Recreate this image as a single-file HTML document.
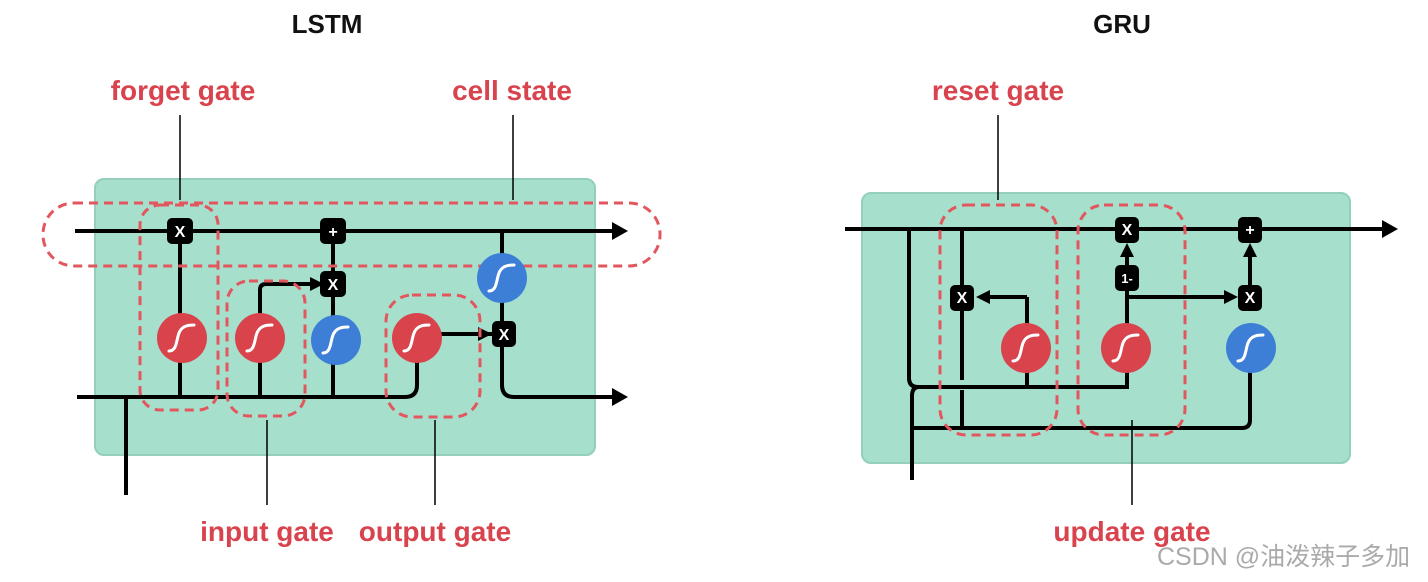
<!DOCTYPE html>
<html><head><meta charset="utf-8"><style>
html,body{margin:0;padding:0;background:#fff;}
svg{display:block;}
.lbl{font-family:"Liberation Sans",sans-serif;font-weight:bold;font-size:28px;fill:#d8434d;text-anchor:middle;}
.ttl{font-family:"Liberation Sans",sans-serif;font-weight:bold;font-size:26px;fill:#111;text-anchor:middle;}
.bx{font-family:"Liberation Sans",sans-serif;font-weight:bold;font-size:16px;fill:#fff;text-anchor:middle;}
</style></head><body>
<svg width="1428" height="582" viewBox="0 0 1428 582" xmlns="http://www.w3.org/2000/svg">
<defs>
<g id="sig"><path d="M-13,13 C-4,13 -6,-1 -2,-7 C1,-12 6,-13 12,-13" stroke="#fff" stroke-width="3" fill="none" stroke-linecap="round"/></g>
</defs>
<text class="ttl" x="327" y="33">LSTM</text>
<text class="ttl" x="1122" y="33">GRU</text>

<!-- LSTM -->
<rect x="95" y="179" width="500" height="276" rx="9" fill="#a6dfcc" stroke="#93cfba" stroke-width="2"/>
<g stroke="#000" stroke-width="4" fill="none">
<line x1="75" y1="231" x2="614" y2="231"/>
<line x1="77" y1="397" x2="405" y2="397"/>
<path d="M405,397 Q417,397 417,385 L417,338"/>
<line x1="126" y1="397" x2="126" y2="495"/>
<line x1="180" y1="231" x2="180" y2="397"/>
<line x1="260" y1="397" x2="260" y2="290"/>
<path d="M260,290 Q260,284 266,284 L322,284"/>
<line x1="333" y1="231" x2="333" y2="397"/>
<line x1="417" y1="334" x2="492" y2="334"/>
<line x1="502" y1="231" x2="502" y2="385"/>
<path d="M502,385 Q502,397 514,397 L614,397"/>
</g>
<path d="M612,222 L628,231 L612,240Z"/><path d="M612,388 L628,397 L612,406Z"/>
<path d="M310,277 L324,284 L310,291Z"/><path d="M478,327 L492,334 L478,341Z"/>
<g fill="none" stroke="#e2575e" stroke-width="3" stroke-dasharray="9,6">
<rect x="43" y="203" width="617" height="63" rx="31"/>
<rect x="140" y="205" width="78" height="205" rx="20"/>
<rect x="227" y="281" width="78" height="135" rx="22"/>
<rect x="386" y="295" width="94" height="122" rx="26"/>
</g>
<g stroke="#000" stroke-width="1.5">
<line x1="180" y1="115" x2="180" y2="200"/>
<line x1="513" y1="115" x2="513" y2="200"/>
<line x1="267" y1="420" x2="267" y2="505"/>
<line x1="435" y1="420" x2="435" y2="505"/>
</g>
<g>
<circle cx="182" cy="338" r="25" fill="#d8434c"/><use href="#sig" x="182" y="338"/>
<circle cx="260" cy="338" r="25" fill="#d8434c"/><use href="#sig" x="260" y="338"/>
<circle cx="336" cy="340" r="25" fill="#3d7fd6"/><use href="#sig" x="336" y="340"/>
<circle cx="417" cy="338" r="25" fill="#d8434c"/><use href="#sig" x="417" y="338"/>
<circle cx="502" cy="278" r="25" fill="#3d7fd6"/><use href="#sig" x="502" y="278"/>
</g>
<g fill="#000">
<rect x="167" y="218" width="26" height="26" rx="5"/>
<rect x="320" y="218" width="26" height="26" rx="5"/>
<rect x="320" y="271" width="26" height="26" rx="5"/>
<rect x="492" y="321" width="24" height="26" rx="5"/>
</g>
<text class="bx" x="180" y="237">X</text><text class="bx" x="333" y="237">+</text>
<text class="bx" x="333" y="290">X</text><text class="bx" x="504" y="340">X</text>
<text class="lbl" x="183" y="100">forget gate</text>
<text class="lbl" x="512" y="100">cell state</text>
<text class="lbl" x="267" y="541">input gate</text>
<text class="lbl" x="435" y="541">output gate</text>

<!-- GRU -->
<rect x="862" y="193" width="488" height="270" rx="9" fill="#a6dfcc" stroke="#93cfba" stroke-width="2"/>
<g stroke="#000" stroke-width="4" fill="none">
<line x1="845" y1="229" x2="1385" y2="229"/>
<path d="M909,229 L909,378 Q909,387 918,387 L1127,387 L1127,348"/>
<line x1="1027" y1="387" x2="1027" y2="297"/>
<line x1="1027" y1="297" x2="985" y2="297"/>
<path d="M919,387 Q912,387 912,396 L912,480"/>
<path d="M912,428 L1242,428 Q1250,428 1250,420 L1250,348"/>
<line x1="962" y1="229" x2="962" y2="380"/>
<line x1="962" y1="390" x2="962" y2="428"/>
<line x1="1127" y1="348" x2="1127" y2="250"/>
<line x1="1127" y1="297" x2="1226" y2="297"/>
<line x1="1250" y1="297" x2="1250" y2="250"/>
</g>
<path d="M1382,220 L1398,229 L1382,238Z"/>
<path d="M990,290 L976,297 L990,304Z"/>
<path d="M1224,290 L1238,297 L1224,304Z"/>
<path d="M1120,257 L1127,243 L1134,257Z"/>
<path d="M1243,257 L1250,243 L1257,257Z"/>
<g fill="none" stroke="#e2575e" stroke-width="3" stroke-dasharray="9,6">
<rect x="940" y="205" width="117" height="230" rx="26"/>
<rect x="1078" y="205" width="107" height="230" rx="26"/>
</g>
<g stroke="#000" stroke-width="1.5">
<line x1="998" y1="115" x2="998" y2="200"/>
<line x1="1132" y1="420" x2="1132" y2="505"/>
</g>
<circle cx="1026" cy="348" r="25" fill="#d8434c"/><use href="#sig" x="1026" y="348"/>
<circle cx="1126" cy="348" r="25" fill="#d8434c"/><use href="#sig" x="1126" y="348"/>
<circle cx="1251" cy="348" r="25" fill="#3d7fd6"/><use href="#sig" x="1251" y="348"/>
<g fill="#000">
<rect x="950" y="285" width="24" height="26" rx="5"/>
<rect x="1115" y="217" width="24" height="26" rx="5"/>
<rect x="1115" y="265" width="24" height="26" rx="5"/>
<rect x="1238" y="285" width="24" height="26" rx="5"/>
<rect x="1238" y="217" width="24" height="26" rx="5"/>
</g>
<text class="bx" x="962" y="303">X</text><text class="bx" x="1127" y="235">X</text>
<text class="bx" x="1127" y="283" style="font-size:13px">1-</text>
<text class="bx" x="1250" y="303">X</text><text class="bx" x="1250" y="235">+</text>
<text class="lbl" x="998" y="100">reset gate</text>
<text class="lbl" x="1132" y="541">update gate</text>
<text x="1157" y="565" style="font-family:'Liberation Sans','Noto Sans CJK SC',sans-serif;font-size:25px;fill:#aaa;">CSDN @油泼辣子多加</text>
</svg>
</body></html>
